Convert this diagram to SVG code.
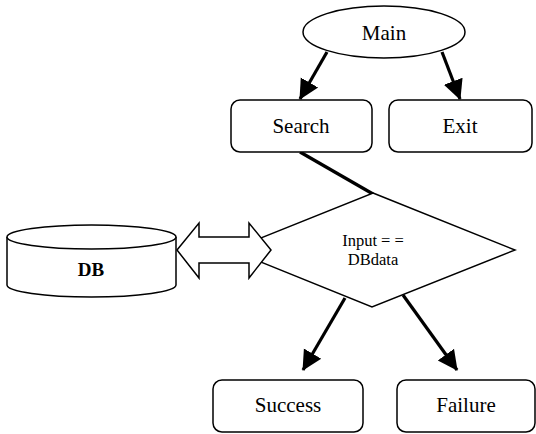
<svg xmlns="http://www.w3.org/2000/svg" width="536" height="434" viewBox="0 0 536 434">
<style>
.shape{fill:#fff;stroke:#000;stroke-width:1.5}
.lbl{font-family:"Liberation Serif","Times New Roman",serif;fill:#000;text-anchor:middle}
.big{font-size:21px}
.mid{font-size:16.5px}
.conn{stroke:#000;stroke-width:3.2;fill:none}
</style>
<defs>
<marker id="ah" markerUnits="userSpaceOnUse" markerWidth="22" markerHeight="22" viewBox="0 0 22 22" refX="19" refY="11" orient="auto">
<path d="M0,1 L20,11 L0,21 Z" fill="#000"/>
</marker>
</defs>
<g id="connectors">
<line class="conn" x1="327" y1="52" x2="300" y2="99" marker-end="url(#ah)"/>
<line class="conn" x1="442" y1="52" x2="460" y2="99" marker-end="url(#ah)"/>
<line class="conn" x1="300" y1="152" x2="373" y2="194"/>
<line class="conn" x1="345" y1="298" x2="303" y2="370" marker-end="url(#ah)"/>
<line class="conn" x1="403" y1="295" x2="457" y2="370" marker-end="url(#ah)"/>
</g>
<g id="main">
<ellipse class="shape" cx="384" cy="32" rx="81" ry="26"/>
<text class="lbl big" x="384" y="40">Main</text>
</g>
<g id="search">
<rect class="shape" x="231" y="100" width="141" height="52" rx="9"/>
<text class="lbl big" x="301" y="133">Search</text>
</g>
<g id="exit">
<rect class="shape" x="389" y="100" width="143" height="52" rx="9"/>
<text class="lbl big" x="460" y="133">Exit</text>
</g>
<g id="decision">
<polygon class="shape" points="373,193 515,250 372,307 231,250"/>
<text class="lbl mid" x="373" y="246">Input = =</text>
<text class="lbl mid" x="373" y="265">DBdata</text>
</g>
<g id="db">
<path class="shape" d="M7,237 L7,285 A84.5,12 0 0 0 176,285 L176,237"/>
<ellipse class="shape" cx="91.5" cy="237" rx="84.5" ry="12"/>
<text class="lbl" x="91" y="276" style="font-size:19px;font-weight:bold">DB</text>
</g>
<g id="dbarrow">
<polygon class="shape" points="177,250 199,223 199,237 249,237 249,223 271,250 249,278 249,263 199,263 199,278"/>
</g>
<g id="success">
<rect class="shape" x="213" y="380" width="150" height="52" rx="9"/>
<text class="lbl big" x="288" y="412">Success</text>
</g>
<g id="failure">
<rect class="shape" x="397" y="380" width="138" height="52" rx="9"/>
<text class="lbl big" x="466" y="412">Failure</text>
</g>
</svg>
